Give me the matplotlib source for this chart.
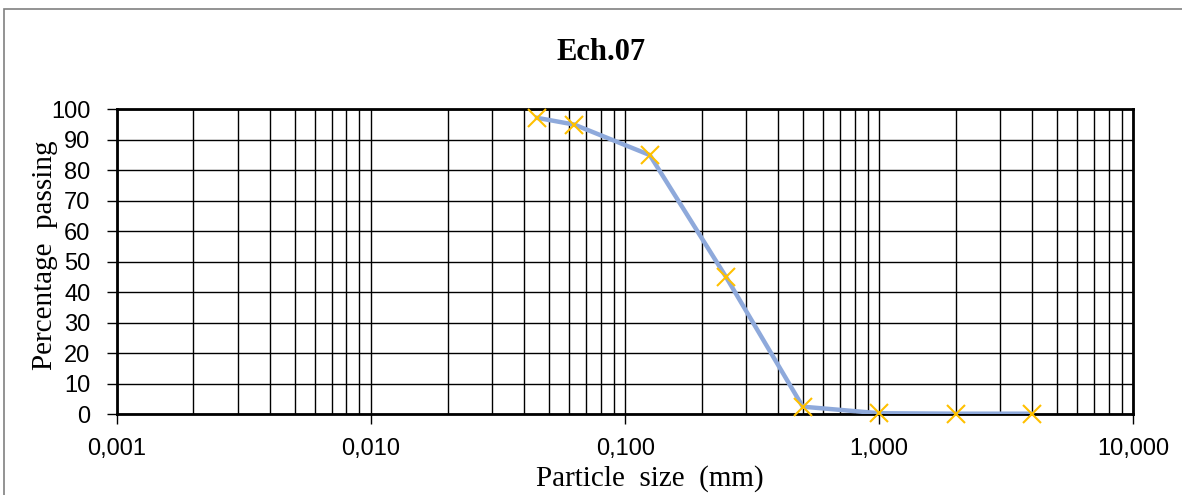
import matplotlib
matplotlib.use("Agg")
import matplotlib.pyplot as plt
from matplotlib.patches import Rectangle
from matplotlib.ticker import FixedLocator, FuncFormatter, LogLocator, NullFormatter

# Data
particle_size_mm = [0.045, 0.063, 0.125, 0.25, 0.5, 1.0, 2.0, 4.0]
percent_passing = [97.2, 95.0, 85.0, 44.9, 2.5, 0.35, 0.2, 0.2]
x_ticks = [0.001, 0.01, 0.1, 1, 10]
x_tick_labels = ["0,001", "0,010", "0,100", "1,000", "10,000"]
y_ticks = list(range(0, 101, 10))
title = "Ech.07"
x_label = "Particle  size  (mm)"
y_label = "Percentage  passing"

W, H = 1182, 495
fig = plt.figure(figsize=(W / 100, H / 100), dpi=100)
fig.patch.set_facecolor("white")

# outer chart border
fig.add_artist(Rectangle((4 / W, -0.05), 1.1, (H - 9) / H + 0.05, transform=fig.transFigure,
                         fill=False, edgecolor="#808080", linewidth=1.2))

ax = fig.add_axes([117 / W, (H - 414.3) / H, (1133.3 - 117) / W, (414.3 - 109.3) / H])
ax.set_xscale("log")
ax.set_xlim(0.001, 10)
ax.set_ylim(0, 100)

ax.xaxis.set_major_locator(FixedLocator(x_ticks))
ax.xaxis.set_major_formatter(FuncFormatter(
    lambda v, p: x_tick_labels[x_ticks.index(min(x_ticks, key=lambda t: abs(t - v)))]))
ax.xaxis.set_minor_locator(LogLocator(base=10, subs=range(2, 10)))
ax.xaxis.set_minor_formatter(NullFormatter())
ax.set_yticks(y_ticks)

ax.grid(True, which="major", color="black", linewidth=1.0)
ax.grid(True, which="minor", axis="x", color="black", linewidth=1.0)
ax.set_axisbelow(True)

for s in ax.spines.values():
    s.set_linewidth(2.0)
    s.set_color("black")

ax.tick_params(axis="both", which="major", direction="out", length=7, width=1.0,
               labelsize=17, color="black")
ax.tick_params(axis="x", which="minor", length=0)
for lab in ax.get_xticklabels() + ax.get_yticklabels():
    lab.set_fontfamily("Liberation Sans")
ax.tick_params(axis="x", pad=10)
ax.tick_params(axis="y", pad=12)

ax.plot(particle_size_mm, percent_passing, color="#8EA9DB", linewidth=3.2, zorder=3)
ax.plot(particle_size_mm, percent_passing, linestyle="none", marker="x", markersize=13,
        markeredgewidth=1.5, color="#FFC000", zorder=4, clip_on=False)

ax.set_xlabel(x_label, fontfamily="Liberation Serif", fontsize=21)
ax.set_ylabel(y_label, fontfamily="Liberation Serif", fontsize=21)
ax.xaxis.set_label_coords(0.5245, -0.167)
ax.yaxis.set_label_coords(-0.058, 0.52)
fig.text(601 / W, 1 - 60 / H, title, ha="center", va="baseline", fontfamily="Liberation Serif",
         fontweight="bold", fontsize=22)

fig.savefig("out.png", dpi=100)
